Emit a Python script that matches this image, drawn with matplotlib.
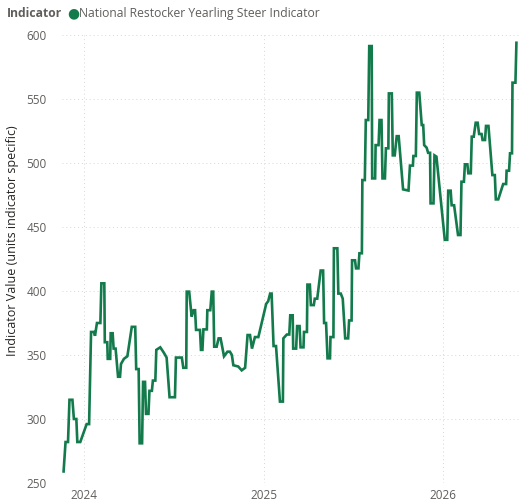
import pandas as pd
import matplotlib
matplotlib.use("Agg")
import matplotlib.pyplot as plt
import matplotlib.dates as mdates

plt.rcParams['font.family'] = ['Open Sans', 'DejaVu Sans']

series_name = "National Restocker Yearling Steer Indicator"
legend_title = "Indicator"
y_label = "Indicator Value (units indicator specific)"

dates = [
    "2023-11-20", "2023-11-24", "2023-11-29", "2023-12-02", "2023-12-08", "2023-12-11",
    "2023-12-16", "2023-12-18", "2023-12-24", "2024-01-06", "2024-01-11", "2024-01-15",
    "2024-01-21", "2024-01-23", "2024-01-27", "2024-02-03", "2024-02-05", "2024-02-11",
    "2024-02-12", "2024-02-17", "2024-02-18", "2024-02-23", "2024-02-24", "2024-02-28",
    "2024-03-01", "2024-03-05", "2024-03-10", "2024-03-14", "2024-03-16", "2024-03-22",
    "2024-03-29", "2024-04-07", "2024-04-14", "2024-04-16", "2024-04-21", "2024-04-23",
    "2024-04-28", "2024-04-30", "2024-05-04", "2024-05-06", "2024-05-11", "2024-05-13",
    "2024-05-18", "2024-05-20", "2024-05-25", "2024-05-27", "2024-06-04", "2024-06-11",
    "2024-06-17", "2024-06-23", "2024-07-04", "2024-07-06", "2024-07-18", "2024-07-21",
    "2024-07-27", "2024-07-28", "2024-08-02", "2024-08-07", "2024-08-11", "2024-08-14",
    "2024-08-16", "2024-08-24", "2024-08-26", "2024-08-29", "2024-08-31", "2024-09-07",
    "2024-09-08", "2024-09-14", "2024-09-17", "2024-09-20", "2024-09-22", "2024-09-27",
    "2024-10-01", "2024-10-05", "2024-10-12", "2024-10-19", "2024-10-24", "2024-10-28",
    "2024-10-31", "2024-11-10", "2024-11-17", "2024-11-24", "2024-11-29", "2024-12-04",
    "2024-12-08", "2024-12-14", "2024-12-21", "2025-01-06", "2025-01-10", "2025-01-14",
    "2025-01-17", "2025-01-21", "2025-01-26", "2025-02-03", "2025-02-09", "2025-02-10",
    "2025-02-17", "2025-02-22", "2025-02-24", "2025-03-01", "2025-03-02", "2025-03-08",
    "2025-03-10", "2025-03-15", "2025-03-17", "2025-03-23", "2025-03-24", "2025-03-30",
    "2025-03-31", "2025-04-05", "2025-04-07", "2025-04-13", "2025-04-15", "2025-04-20",
    "2025-04-27", "2025-05-02", "2025-05-04", "2025-05-08", "2025-05-11", "2025-05-16",
    "2025-05-17", "2025-05-23", "2025-05-24", "2025-05-31", "2025-06-02", "2025-06-07",
    "2025-06-11", "2025-06-16", "2025-06-22", "2025-06-24", "2025-06-29", "2025-06-30",
    "2025-07-06", "2025-07-08", "2025-07-13", "2025-07-15", "2025-07-20", "2025-07-21",
    "2025-07-26", "2025-07-28", "2025-08-02", "2025-08-04", "2025-08-09", "2025-08-10",
    "2025-08-16", "2025-08-17", "2025-08-23", "2025-08-25", "2025-08-29", "2025-08-31",
    "2025-09-05", "2025-09-07", "2025-09-12", "2025-09-13", "2025-09-19", "2025-09-21",
    "2025-09-25", "2025-09-29", "2025-10-03", "2025-10-12", "2025-10-23", "2025-10-26",
    "2025-11-01", "2025-11-02", "2025-11-07", "2025-11-09", "2025-11-14", "2025-11-19",
    "2025-11-22", "2025-11-24", "2025-11-29", "2025-12-02", "2025-12-06", "2025-12-07",
    "2025-12-13", "2025-12-15", "2025-12-19", "2026-01-05", "2026-01-10", "2026-01-12",
    "2026-01-17", "2026-01-19", "2026-01-24", "2026-02-01", "2026-02-06", "2026-02-08",
    "2026-02-13", "2026-02-15", "2026-02-20", "2026-02-22", "2026-02-27", "2026-03-01",
    "2026-03-05", "2026-03-09", "2026-03-13", "2026-03-16", "2026-03-21", "2026-03-23",
    "2026-03-28", "2026-03-30", "2026-04-04", "2026-04-12", "2026-04-17", "2026-04-19",
    "2026-04-24", "2026-05-04", "2026-05-10", "2026-05-11", "2026-05-16", "2026-05-18",
    "2026-05-22", "2026-05-23", "2026-05-29", "2026-05-31",
]

values = [
    259, 282, 282, 315, 315, 300,
    300, 282, 282, 296, 296, 368,
    368, 365, 375, 375, 406, 406,
    360, 360, 347, 347, 367, 367,
    355, 355, 333, 333, 343, 347,
    349, 372, 372, 339, 339, 281,
    281, 329, 329, 304, 304, 322,
    322, 330, 330, 354, 356, 352,
    348, 317, 317, 348, 348, 340,
    340, 399.5, 399.5, 380, 385, 385,
    369.6, 369.6, 354, 354, 370, 370,
    385, 385, 399.5, 399.5, 356.5, 356.5,
    363, 363, 349, 352.6, 352.6, 350,
    342, 341, 338, 340, 365.6, 365.6,
    355, 364, 364, 390, 392, 398,
    398, 357, 357, 313.6, 313.6, 363,
    366, 366, 381, 381, 355, 355,
    372.6, 372.6, 356, 356, 368, 368,
    405, 405, 389, 389, 394, 394,
    416, 416, 375, 375, 347.4, 347.4,
    364, 364, 433.4, 433.4, 398, 398,
    394, 363, 363, 377, 377, 424,
    424, 417.7, 417.7, 429.5, 429.5, 486.7,
    486.7, 533.6, 533.6, 591.4, 591.4, 488,
    488, 514, 514, 533.6, 533.6, 488,
    488, 511.5, 511.5, 554.4, 554.4, 506,
    506, 521, 521, 479.4, 478.5, 498,
    498, 505.5, 505.5, 555, 555, 529.7,
    529.7, 514, 512, 508, 508, 468.5,
    468.5, 506, 505, 440, 440, 478.4,
    478.4, 467, 467, 443.75, 443.75, 485.4,
    485.4, 499, 499, 492, 492, 520.6,
    520.6, 531.5, 531.5, 522.7, 522.7, 518,
    518, 529, 529, 490.6, 490.6, 471.6,
    471.6, 483.6, 483.6, 494, 494, 507.6,
    507.6, 562.8, 562.8, 594,
]

y_ticks = [250, 300, 350, 400, 450, 500, 550, 600]
x_ticks = ["2024-01-01", "2025-01-01", "2026-01-01"]

line_color = "#127a4b"
text_color = "#605e5c"

fig = plt.figure(figsize=(5.22, 5.01), dpi=100)
ax = fig.add_axes([0.119, 0.036, 0.875, 0.894])

ax.plot(pd.to_datetime(dates), values, color=line_color, linewidth=1.9,
        solid_joinstyle="miter", zorder=3)

ax.set_ylim(250, 600)
ax.set_xlim(pd.Timestamp("2023-11-17"), pd.Timestamp("2026-06-05"))
ax.set_yticks(y_ticks)
ax.set_xticks(pd.to_datetime(x_ticks))
ax.xaxis.set_major_formatter(mdates.DateFormatter("%Y"))

ax.grid(True, color="#d6d6d6", linestyle=(0, (1, 3)), linewidth=0.7)
ax.set_axisbelow(True)
for s in ax.spines.values():
    s.set_visible(False)
ax.tick_params(length=0, colors=text_color, labelsize=8.5)
ax.tick_params(axis="y", pad=11)
ax.tick_params(axis="x", pad=4)

fig.text(0.024, 0.52, y_label, rotation=90, ha="center", va="center",
         fontsize=9, color="#252423")

fig.text(0.013, 0.973, legend_title, fontsize=8.7, fontweight="bold",
         color="#605e5c", va="center")
fig.text(0.140, 0.973, "\u25cf", fontsize=10, color=line_color,
         va="center", ha="center", family="DejaVu Sans")
fig.text(0.152, 0.973, series_name, fontsize=8.7, color="#605e5c", va="center")

fig.savefig("out.png", dpi=100)
